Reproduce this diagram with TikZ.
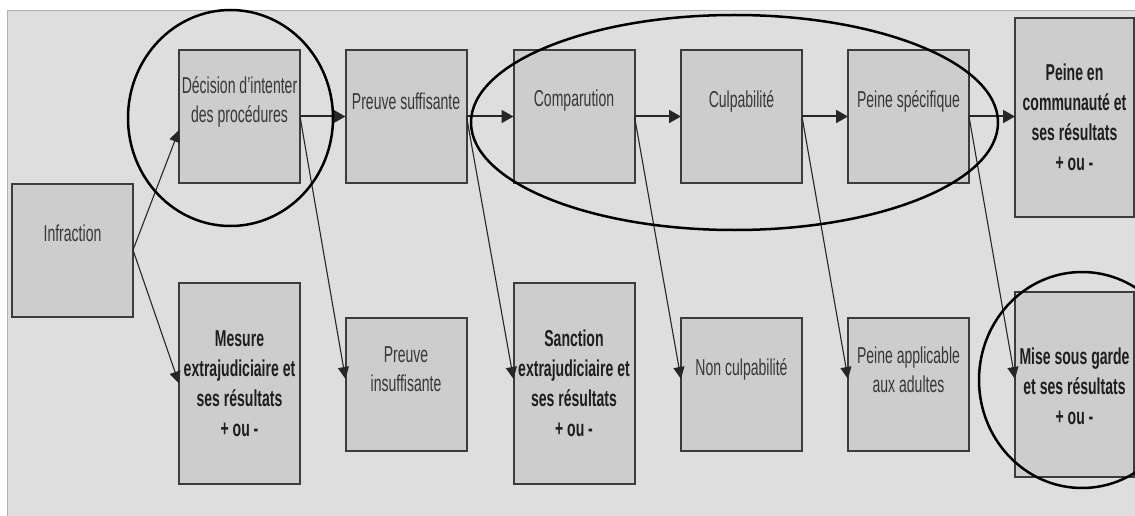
\documentclass[tikz,border=0pt]{standalone}
\usepackage{fontspec}
\setmainfont{Liberation Sans}[FakeStretch=0.61]
\usetikzlibrary{arrows.meta}
\definecolor{bgc}{RGB}{222,222,222}
\definecolor{bgline}{RGB}{175,175,175}
\definecolor{boxfill}{RGB}{205,205,205}
\definecolor{boxline}{RGB}{60,60,60}
\definecolor{txtc}{RGB}{55,55,55}
\definecolor{btxtc}{RGB}{30,30,30}
\tikzset{
  base/.style={rectangle, draw=boxline, line width=2pt, fill=boxfill, inner sep=0pt, outer sep=0pt},
  smallbox/.style={base, minimum width=121pt, minimum height=133pt},
  bigbox/.style={base, minimum width=121pt, minimum height=201pt},
  txt/.style={align=center, text=txtc, inner sep=0pt, font=\fontsize{23}{29}\selectfont},
  btxt/.style={align=center, text=btxtc, inner sep=0pt, font=\fontsize{23}{30}\selectfont\bfseries},
  harrow/.style={draw=black!85, line width=2pt, -{Triangle[length=12pt,width=13pt]}},
  darrow/.style={draw=black!85, line width=1.1pt, -{Triangle[length=12pt,width=11pt]}},
  ring/.style={draw=black, line width=2.5pt}
}
\begin{document}
\begin{tikzpicture}[x=1pt,y=-1pt]
\useasboundingbox (0,0) rectangle (1135,516);
\clip (0,0) rectangle (1135,516);
\fill[white] (0,0) rectangle (1135,516);
\fill[bgc] (7,11) rectangle (1135,516);
\draw[bgline, line width=1pt] (7,516) -- (7,11) -- (1135,11);

% boxes
\node[smallbox] (inf) at (72.5,250) {};
\node[smallbox] (dec) at (239.5,116.5) {};
\node[smallbox] (pre) at (406,116.5) {};
\node[smallbox] (comp) at (574,116.5) {};
\node[smallbox] (culp) at (741.5,116.5) {};
\node[smallbox] (pspec) at (908.5,116.5) {};
\node[base, minimum width=119pt, minimum height=199pt] (pcom) at (1074.5,117.5) {};
\node[bigbox] (mes) at (239.5,383.5) {};
\node[smallbox] (pins) at (406,384) {};
\node[bigbox] (sanc) at (574,383.5) {};
\node[smallbox] (ncul) at (741.5,384) {};
\node[smallbox] (papp) at (908.5,384) {};
\node[base, minimum width=119pt, minimum height=185pt] (mise) at (1074.5,384.5) {};

% texts
\node[txt] (t-inf) at ([yshift=-50pt]inf.north) {Infraction};
\node[txt] (t-dec) at ([yshift=-52pt]dec.north) {Décision d’intenter\\des procédures};
\node[txt] (t-pre) at ([yshift=-51pt]pre.north) {Preuve suffisante};
\node[txt] (t-comp) at ([yshift=-51pt]comp.north) {Comparution};
\node[txt] (t-culp) at ([yshift=-51pt]culp.north) {Culpabilité};
\node[txt] (t-pspec) at ([yshift=-51pt]pspec.north) {Peine spécifique};
\node[btxt] (t-pcom) at (pcom.center) {Peine en\\communauté et\\ses résultats\\+ ou -};
\node[btxt] (t-mes) at (mes.center) {Mesure\\extrajudiciaire et\\ses résultats\\+ ou -};
\node[txt] (t-pins) at ([yshift=-52pt]pins.north) {Preuve\\insuffisante};
\node[btxt] (t-sanc) at (sanc.center) {Sanction\\extrajudiciaire et\\ses résultats\\+ ou -};
\node[txt] (t-ncul) at ([yshift=-52pt]ncul.north) {Non culpabilité};
\node[txt] (t-papp) at ([yshift=-52pt]papp.north) {Peine applicable\\aux adultes};
\node[btxt] (t-mise) at ([yshift=-2pt]mise.center) {Mise sous garde\\et ses résultats\\+ ou -};

% connectors
\coordinate (lvl) at (0,379);
\coordinate (dlvl) at (0,130);
\draw[darrow] (inf.east) -- (dec.west |- dlvl);
\draw[darrow] (inf.east) -- (mes.west);
\draw[harrow] (dec.east) -- (pre.west);
\draw[harrow] (pre.east) -- (comp.west);
\draw[harrow] (comp.east) -- (culp.west);
\draw[harrow] (culp.east) -- (pspec.west);
\draw[harrow] (pspec.east) -- (pspec.east -| pcom.west);
\draw[darrow] (dec.east) -- (pins.west |- lvl);
\draw[darrow] (pre.east) -- (sanc.west |- lvl);
\draw[darrow] (comp.east) -- (ncul.west |- lvl);
\draw[darrow] (culp.east) -- (papp.west |- lvl);
\draw[darrow] (pspec.east) -- (mise.west |- lvl);

% rings
\draw[ring] (230.5,118) ellipse [x radius=102.5, y radius=108];
\draw[ring] (734.5,122.5) ellipse [x radius=263.5, y radius=107.5];
\draw[ring] (1082,380) ellipse [x radius=103, y radius=108];
\end{tikzpicture}
\end{document}
